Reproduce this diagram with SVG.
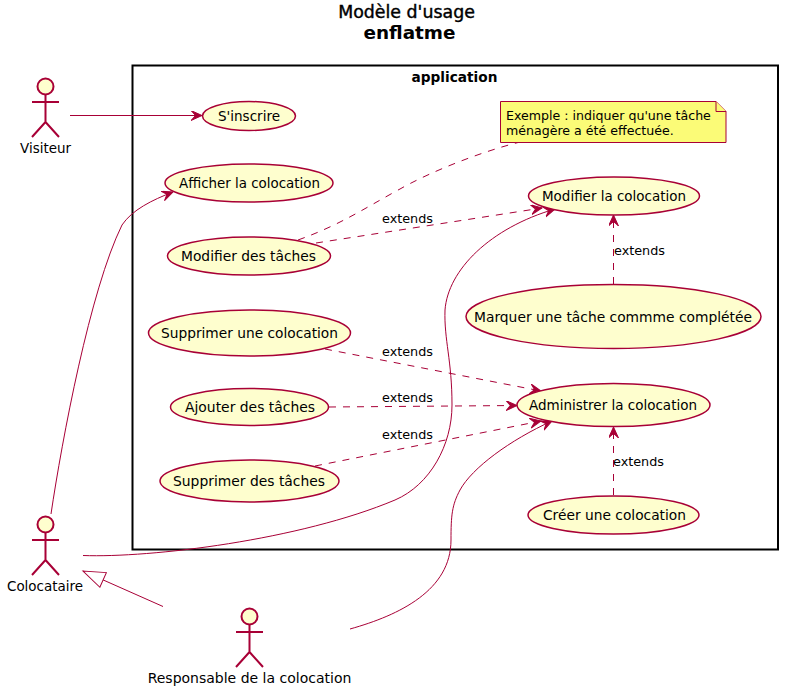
<svg xmlns="http://www.w3.org/2000/svg" width="811" height="694" viewBox="0 0 811 694">
<style>
text{font-family:"DejaVu Sans",sans-serif;fill:#000}
.t{font-size:14px;text-anchor:middle}
.e{font-size:12.800px}
.n{font-size:12.600px}
.u ellipse{fill:#FEFECE;stroke:#A80036;stroke-width:1.5}
.a circle{fill:#FEFECE;stroke:#A80036;stroke-width:2}
.a path{fill:none;stroke:#A80036;stroke-width:2}
.c{fill:none;stroke:#A80036;stroke-width:1}
.d{stroke-dasharray:7,7}
</style>
<defs>
<marker id="ah" markerUnits="userSpaceOnUse" markerWidth="14" markerHeight="14" refX="11" refY="5" orient="auto"><path d="M0,0 L11,5 L0,10 L4.500,5 Z" fill="#A80036" stroke="#A80036"/></marker>
<marker id="tri" markerUnits="userSpaceOnUse" markerWidth="26" markerHeight="20" refX="23" refY="9" orient="auto"><path d="M1,1 L23,9 L1,17 Z" fill="#fff" stroke="#A80036"/></marker>
</defs>
<g id="title">
<text x="406.500" y="18" font-size="17.400" text-anchor="middle" stroke="#000" stroke-width=".4">Modèle d'usage</text>
<text x="409.500" y="39" font-size="18.400" font-weight="700" text-anchor="middle">enflatme</text>
</g>
<g id="application">
<rect x="132.500" y="65.500" width="645.500" height="484" fill="#fff" stroke="#000" stroke-width="2"/>
<text x="454.500" y="82" font-size="13.700" font-weight="700" text-anchor="middle">application</text>
</g>
<g id="connectors">
<path class="c" d="M70,115.500 L202,115.500" marker-end="url(#ah)"/>
<path class="c" d="M51,514 C62,440 90,290 122,225 C132,210 152,200 173,192" marker-end="url(#ah)"/>
<path class="c" d="M83,555.500 C150,558 300,540 395,500 C430,485 452,445 452,405 C452,360 444,340 445,310 C448,270 490,228 555,209" marker-end="url(#ah)"/>
<path class="c" d="M350,629 C400,615 451,590 451,540 C451,515 452,505 460,490 C472,468 510,440 552,421" marker-end="url(#ah)"/>
<path class="c" d="M163,606.500 L83,571" marker-end="url(#tri)"/>
<path class="c d" d="M298,240 C340,225 365,208 400,189 C430,172 480,152 520,142"/>
<path class="c d" d="M316,243 L542,208" marker-end="url(#ah)"/>
<path class="c d" d="M613.500,284 L613.500,215" marker-end="url(#ah)"/>
<path class="c d" d="M325,349 L541,391" marker-end="url(#ah)"/>
<path class="c d" d="M329,407 L517,405.500" marker-end="url(#ah)"/>
<path class="c d" d="M315,466 L541,421" marker-end="url(#ah)"/>
<path class="c d" d="M613.500,495 L613.500,427" marker-end="url(#ah)"/>
</g>
<g id="labels">
<text x="382" y="223" class="e">extends</text>
<text x="614" y="255" class="e">extends</text>
<text x="382" y="356" class="e">extends</text>
<text x="382" y="402" class="e">extends</text>
<text x="382" y="439" class="e">extends</text>
<text x="613" y="466" class="e">extends</text>
</g>
<g id="sinscrire" class="u"><ellipse cx="249" cy="116" rx="46.500" ry="14.500"/><text class="t" x="249" y="121" textLength="62" lengthAdjust="spacingAndGlyphs">S'inscrire</text></g>
<g id="afficher" class="u"><ellipse cx="249" cy="183" rx="84" ry="19"/><text class="t" x="249.500" y="188" textLength="141" lengthAdjust="spacingAndGlyphs">Afficher la colocation</text></g>
<g id="modifier-taches" class="u"><ellipse cx="249" cy="256" rx="81.500" ry="19"/><text class="t" x="248.500" y="261" textLength="135" lengthAdjust="spacingAndGlyphs">Modifier des tâches</text></g>
<g id="supprimer-colocation" class="u"><ellipse cx="249.500" cy="333" rx="101" ry="23"/><text class="t" x="249.500" y="338" textLength="177" lengthAdjust="spacingAndGlyphs">Supprimer une colocation</text></g>
<g id="ajouter" class="u"><ellipse cx="249.500" cy="407" rx="79" ry="18.500"/><text class="t" x="250" y="412" textLength="130" lengthAdjust="spacingAndGlyphs">Ajouter des tâches</text></g>
<g id="supprimer-taches" class="u"><ellipse cx="249.500" cy="481" rx="89.500" ry="21"/><text class="t" x="249" y="486" textLength="152" lengthAdjust="spacingAndGlyphs">Supprimer des tâches</text></g>
<g id="modifier-colocation" class="u"><ellipse cx="614" cy="196" rx="85.500" ry="19"/><text class="t" x="614" y="201" textLength="144" lengthAdjust="spacingAndGlyphs">Modifier la colocation</text></g>
<g id="marquer" class="u"><ellipse cx="613.500" cy="316.500" rx="147.500" ry="32"/><text class="t" x="613" y="322" textLength="278" lengthAdjust="spacingAndGlyphs">Marquer une tâche commme complétée</text></g>
<g id="administrer" class="u"><ellipse cx="613.500" cy="405" rx="96.500" ry="21.500"/><text class="t" x="613" y="410" textLength="168" lengthAdjust="spacingAndGlyphs">Administrer la colocation</text></g>
<g id="creer" class="u"><ellipse cx="613.500" cy="515" rx="85.500" ry="19"/><text class="t" x="614.500" y="520" textLength="143" lengthAdjust="spacingAndGlyphs">Créer une colocation</text></g>
<g id="note">
<path d="M500.500,101.500 L716,101.500 L726,111.500 L726,142.500 L500.500,142.500 Z" fill="#FBFB77" stroke="#A80036"/>
<path d="M716,101.500 L716,111.500 L726,111.500" fill="#FBFB77" stroke="#A80036"/>
<text x="506" y="120" class="n">Exemple : indiquer qu'une tâche</text>
<text x="506" y="135" class="n">ménagère a été effectuée.</text>
</g>
<g id="visiteur" class="a"><circle cx="45.500" cy="86.500" r="8"/><path d="M45.500,94.500 V122 M32,102 H59 M45.500,122 L32,137 M45.500,122 L59,137"/><text class="t" x="45.500" y="153" textLength="51" lengthAdjust="spacingAndGlyphs">Visiteur</text></g>
<g id="colocataire" class="a"><circle cx="45.500" cy="524.500" r="8"/><path d="M45.500,532.500 V560 M32,540 H59 M45.500,560 L32,575 M45.500,560 L59,575"/><text class="t" x="45" y="591" textLength="76" lengthAdjust="spacingAndGlyphs">Colocataire</text></g>
<g id="responsable" class="a"><circle cx="249.500" cy="616.500" r="8"/><path d="M249.500,624.500 V652 M236,632 H263 M249.500,652 L236,667 M249.500,652 L263,667"/><text class="t" x="249.500" y="683">Responsable de la colocation</text></g>
</svg>
